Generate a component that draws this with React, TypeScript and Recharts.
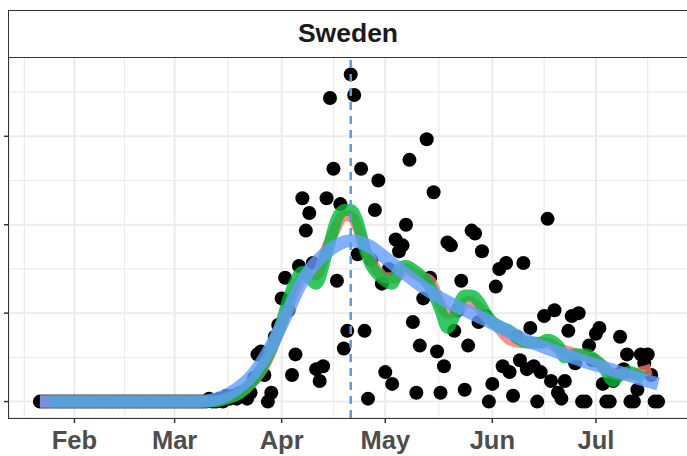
import React from 'react';
import { ComposedChart, Scatter, Line, XAxis, YAxis, CartesianGrid, ReferenceLine } from 'recharts';

// days are counted from 1 Feb 2020; first observation is 22 Jan 2020
const FIRST_DAY = -10;
const dailyDeaths = [
  0, 0, 0, 0, 0, 0, 0, 0, 0, 0,
  0, 0, 0, 0, 0, 0, 0, 0, 0, 0,
  0, 0, 0, 0, 0, 0, 0, 0, 0, 0,
  0, 0, 0, 0, 0, 0, 0, 0, 0, 0,
  0, 0, 0, 0, 0, 0, 0, 0, 0,
  1, 0, 0, 1, 0, 2, 1, 2, 1, 3,
  2, 1, 3, 8, 16, 17, 9, 0, 3, 22,
  26, 35, 42, 31, 9, 16, 46, 69, 58, 64,
  47, 11, 7, 12, 69, 103, 79, 41, 67, 18,
  24, 111, 104, 50, 79, 24, 1, 48, 65, 75,
  40, 10, 45, 6, 55, 51, 53, 60, 82, 27,
  3, 19, 35, 89, 42, 71, 17, 3, 12, 54,
  53, 24, 31, 41, 4, 19, 58, 57, 27, 51,
  29, 0, 6, 39, 45, 12, 47, 10, 2, 22,
  14, 47, 11, 25, 12, 0, 10, 29, 62, 7,
  31, 3, 1, 7, 24, 29, 13, 30, 0, 0,
  19, 14, 23, 25, 6, 0, 0, 7, 9, 22,
  11, 16, 0, 0, 4, 16, 13, 16, 9, 0,
  0,
];

const redDays = [-10, 40, 44, 48, 51, 55, 58, 61, 64, 67, 70, 73, 75, 78, 80, 82, 85, 88, 90, 93, 96, 99, 103, 106, 108, 111, 114, 116, 119, 122, 126, 129, 133, 137, 140, 143, 146, 149, 152, 155, 158, 161, 164, 167];
const redVals = [0, 0, 1, 3, 6, 12, 20, 29, 38, 43, 43, 52, 57, 63, 63, 59, 50, 44, 42, 42, 45, 43, 41, 33, 30, 31, 34, 33, 29, 26, 21, 20, 20, 20, 18, 17, 16, 15, 13, 10, 9, 9, 10, 11];

const greenDays = [-7, 40, 44, 48, 51, 54, 57, 60, 62, 64, 66, 68, 70, 73, 76, 78, 80, 82, 84, 86, 88, 90, 92, 94, 96, 99, 101, 103, 106, 108, 110, 113, 115, 117, 119, 121, 124, 126, 129, 132, 135, 137, 140, 142, 145, 148, 151, 153, 156, 158, 161, 163, 165];
const greenVals = [0, 0, 1, 3, 6, 11, 18, 27, 35, 41, 44, 42, 40, 50, 62, 65, 65, 61, 52, 46, 43, 41, 40, 45, 46, 44, 42, 39, 31, 25, 29, 36, 36, 34, 30, 27, 25, 24, 21, 20, 20, 21, 19, 15, 16, 16, 14, 12, 7, 9, 10, 9, 8];

const blueDays = [-10, 36, 40, 43, 46, 48, 51, 54, 57, 60, 62, 65, 68, 71, 75, 80, 85, 90, 94, 99, 104, 109, 114, 119, 124, 128, 133, 138, 143, 148, 153, 158, 163, 169];
const blueVals = [0, 0, 0.6, 1.6, 3.5, 5.2, 8.3, 13, 19, 26, 31, 38.7, 44.5, 48.5, 52.4, 54.6, 53, 48.8, 45, 40.5, 36.5, 33.3, 30.5, 27.8, 24.8, 22.3, 19.8, 17.6, 15.5, 13.5, 11.7, 9.9, 8, 6];

const monthTicks = [0, 29, 60, 90, 121, 151];
const monthLabels = ['Feb', 'Mar', 'Apr', 'May', 'Jun', 'Jul'];
const minorXBreaks = [-14.5, 14.5, 44.5, 75, 105.5, 136, 166];
const yTicks = [0, 30, 60, 90];
const minorYBreaks = [15, 45, 75, 105];
const peakDay = 80;
const panelTitle = 'Sweden';

const xDomain = [-18.95, 177.95];
const yDomain = [-5.57, 116.9];

const points = dailyDeaths.map((v, i) => ({ d: FIRST_DAY + i, v }));
const toSeries = (days: number[], vals: number[]) => days.map((d, i) => ({ d, v: vals[i] }));
const redData = toSeries(redDays, redVals);
const greenData = toSeries(greenDays, greenVals);
const blueData = toSeries(blueDays, blueVals);

const BlackDot = (p: any) => <circle cx={p.cx} cy={p.cy} r={7} fill="#000000" />;

const FONT = '"Liberation Sans", Arial, Helvetica, sans-serif';

export default function App() {
  const z: any = (n: number) => ({ zIndex: n });
  return (
    <div style={{ position: 'absolute', left: 0, top: 0, width: 687, height: 456, overflow: 'hidden', background: '#ffffff', fontFamily: FONT }}>
      <ComposedChart width={690} height={456} margin={{ top: 57, right: 1, bottom: 0, left: 0 }}>
        <CartesianGrid stroke="#EBEBEB" strokeWidth={1.2} horizontalValues={minorYBreaks} verticalValues={minorXBreaks} />
        <CartesianGrid stroke="#EBEBEB" strokeWidth={2} />
        <XAxis
          type="number"
          dataKey="d"
          domain={xDomain}
          ticks={monthTicks}
          interval={0}
          allowDataOverflow
          height={38}
          tickSize={5}
          tickMargin={8}
          axisLine={false}
          tickLine={{ stroke: '#333333', strokeWidth: 1.5 }}
          tick={{ fill: '#4D4D4D', fontSize: 25.5, fontWeight: 'bold', fontFamily: FONT }}
          tickFormatter={(v: number) => monthLabels[monthTicks.indexOf(v)] ?? ''}
        />
        <YAxis
          type="number"
          dataKey="v"
          domain={yDomain}
          ticks={yTicks}
          interval={0}
          allowDataOverflow
          width={9}
          tickSize={5}
          axisLine={false}
          tickLine={{ stroke: '#333333', strokeWidth: 1.5 }}
          tickFormatter={() => ''}
        />
        <Scatter data={points} dataKey="v" shape={BlackDot} isAnimationActive={false} {...z(350)} />
        <Line data={redData} dataKey="v" type="monotone" stroke="#F8766D" strokeOpacity={0.8} strokeWidth={11} dot={false} activeDot={false} isAnimationActive={false} strokeLinejoin="round" {...z(650)} />
        <Line data={greenData} dataKey="v" type="monotone" stroke="#00BA38" strokeOpacity={0.8} strokeWidth={12} dot={false} activeDot={false} isAnimationActive={false} strokeLinejoin="round" {...z(651)} />
        <Line data={blueData} dataKey="v" type="monotone" stroke="#619CFF" strokeOpacity={0.8} strokeWidth={13} dot={false} activeDot={false} isAnimationActive={false} strokeLinejoin="round" {...z(652)} />
        <ReferenceLine x={peakDay} stroke="#5B9BE6" strokeWidth={2.5} strokeDasharray="8 6" {...z(660)} />
      </ComposedChart>
      <div style={{ position: 'absolute', left: 8, top: 9.5, width: 680, height: 48, boxSizing: 'border-box', border: '1.5px solid #333333', background: '#ffffff', display: 'flex', alignItems: 'center', justifyContent: 'center', fontSize: 26.5, fontWeight: 'bold', color: '#1A1A1A', fontFamily: FONT }}>
        {panelTitle}
      </div>
      <div style={{ position: 'absolute', left: 8, top: 56.5, width: 690, height: 362, boxSizing: 'border-box', border: '1.5px solid #333333', pointerEvents: 'none' }} />
    </div>
  );
}
